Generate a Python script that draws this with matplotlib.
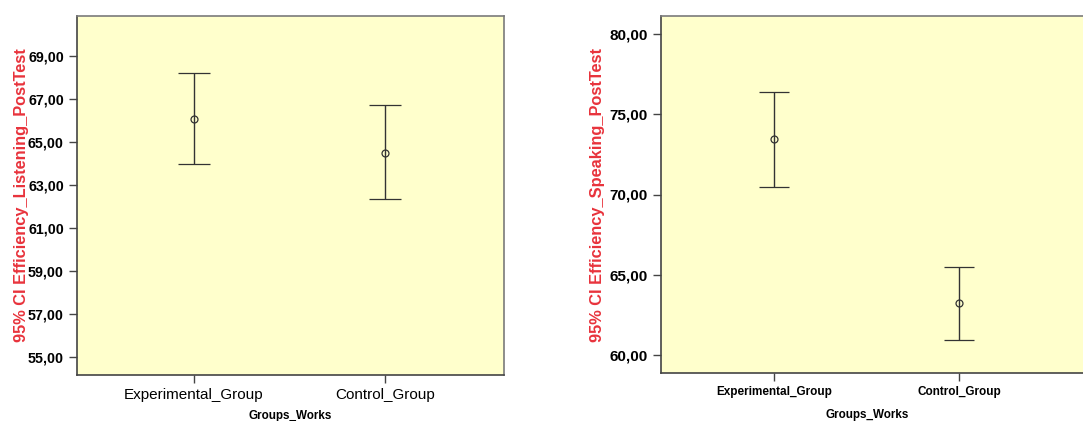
import matplotlib
matplotlib.use("Agg")
import matplotlib.pyplot as plt
import numpy as np

plt.rcParams["font.family"] = ["Liberation Sans", "DejaVu Sans"]

# Medias e intervalos de confianza al 95% por grupo
grupos = ["Experimental_Group", "Control_Group"]

listening_media = [66.07, 64.51]
listening_inf = [63.98, 62.35]
listening_sup = [68.21, 66.70]

speaking_media = [73.44, 63.22]
speaking_inf = [70.47, 60.95]
speaking_sup = [76.39, 65.50]

listening_ticks = [55, 57, 59, 61, 63, 65, 67, 69]
speaking_ticks = [60, 65, 70, 75, 80]

FONDO = "#ffffcc"
LINEA = "#333333"
ROJO = "#e8333c"


def formato_coma(v):
    return f"{v:.2f}".replace(".", ",")


def dibujar_ic(ax, media, inf, sup, capsize):
    x = np.arange(len(grupos))
    media = np.array(media)
    err = np.vstack([media - np.array(inf), np.array(sup) - media])
    ax.errorbar(x, media, yerr=err, fmt="o", color=LINEA, mfc="none", mec=LINEA,
                markersize=5, mew=0.9, elinewidth=1.0, capsize=capsize, capthick=1.0, zorder=3)


def estilo_ejes(ax):
    ax.set_facecolor(FONDO)
    for lado in ("top", "right"):
        ax.spines[lado].set_color("#7a7a7a")
    for lado in ("left", "bottom"):
        ax.spines[lado].set_color("#444444")
    for s in ax.spines.values():
        s.set_linewidth(1.2)
    ax.tick_params(axis="both", direction="out", length=6, width=1.0, color="#444444")


fig = plt.figure(figsize=(10.83, 4.21), dpi=100)

# Panel izquierdo: Listening
ax1 = fig.add_axes([77 / 1083, 46 / 421, 427 / 1083, 359 / 421])
estilo_ejes(ax1)
dibujar_ic(ax1, listening_media, listening_inf, listening_sup, capsize=11.5)
ax1.set_xlim(-0.61, 1.62)
ax1.set_ylim(54.16, 70.86)
ax1.set_yticks(listening_ticks)
ax1.set_yticklabels([formato_coma(v) for v in listening_ticks], fontsize=10.3, fontweight="bold")
ax1.set_xticks(range(len(grupos)))
ax1.set_xticklabels(grupos, fontsize=11)
ax1.set_xlabel("Groups_Works", fontsize=8.4, fontweight="bold")
ax1.xaxis.set_label_coords(0.5, -0.098)
ax1.set_ylabel("95% CI Efficiency_Listening_PostTest", fontsize=11.8, fontweight="bold",
               color=ROJO)
ax1.yaxis.set_label_coords(-0.113, 0.5)

# Panel derecho: Speaking (se sale por el borde derecho)
ax2 = fig.add_axes([661 / 1083, 48 / 421, 430 / 1083, 357 / 421])
estilo_ejes(ax2)
dibujar_ic(ax2, speaking_media, speaking_inf, speaking_sup, capsize=11)
ax2.set_xlim(-0.611, 1.71)
ax2.set_ylim(58.88, 81.12)
ax2.set_yticks(speaking_ticks)
ax2.set_yticklabels([formato_coma(v) for v in speaking_ticks], fontsize=11, fontweight="bold")
ax2.set_xticks(range(len(grupos)))
ax2.set_xticklabels(grupos, fontsize=8.5, fontweight="bold")
ax2.set_xlabel("Groups_Works", fontsize=8.4, fontweight="bold")
ax2.xaxis.set_label_coords((867 - 661) / 430, -0.1)
ax2.set_ylabel("95% CI Efficiency_Speaking_PostTest", fontsize=11.8, fontweight="bold",
               color=ROJO)
ax2.yaxis.set_label_coords(-0.13, 0.5)

fig.savefig("out.png", dpi=100, facecolor="white")
plt.close(fig)
